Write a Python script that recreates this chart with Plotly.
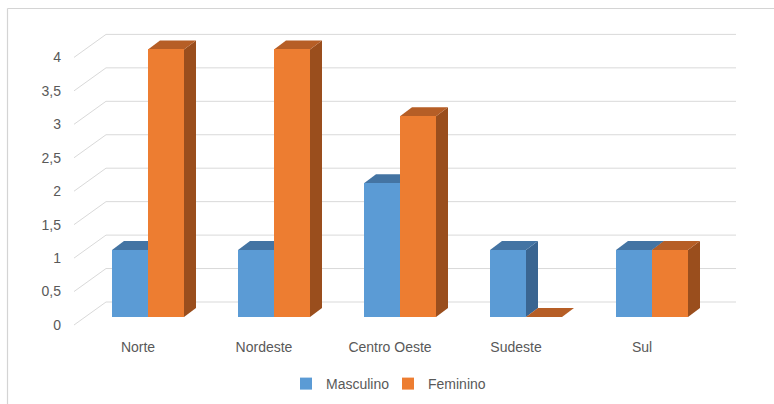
import plotly.graph_objects as go

# ---- data ----
categories = ["Norte", "Nordeste", "Centro Oeste", "Sudeste", "Sul"]
masculino = [1, 1, 2, 1, 1]
feminino = [4, 4, 3, 0, 1]
tick_vals = [0, 0.5, 1, 1.5, 2, 2.5, 3, 3.5, 4]
tick_text = ["0", "0,5", "1", "1,5", "2", "2,5", "3", "3,5", "4"]

# ---- layout geometry (pixels) ----
W, H = 774, 404
CX = 126.0   # px per category
CY = 66.9    # px per value unit
X0 = 85      # px position of x = -0.5 (bar plane)
Y0 = 317     # px position of value 0 (bar plane)
L, R, T, B = 72, 30, 20, 77
xr = [-0.5 - (X0 - L) / CX, -0.5 + (W - R - X0) / CX]
yr = [(Y0 - (H - B)) / CY, (Y0 - T) / CY]

BW = 36 / CX                      # bar width in category units
DX, DY = 12 / CX, 9 / CY          # bar depth
BDX, BDY = 21 / CX, 15 / CY       # back wall offset
FDX, FDY = -11 / CX, -8 / CY      # front floor edge offset

GRID = "#D9D9D9"
TXT = "#595959"
colors = {
    "Masculino": ("#5B9BD5", "#4474A3", "#3A6591"),
    "Feminino": ("#ED7D31", "#B65E26", "#9A4E1D"),
}

xs = list(range(len(categories)))
n = len(categories)

fig = go.Figure()
series = [("Masculino", masculino, -BW), ("Feminino", feminino, 0.0)]
for name, vals, off in series:
    fig.add_trace(go.Bar(
        x=xs, y=vals, name=name, width=BW, offset=off,
        marker=dict(color=colors[name][0], line=dict(width=0)),
    ))

shapes = []
# back wall gridlines + diagonal floor lines
for v in tick_vals:
    shapes.append(dict(type="line", xref="x", yref="y",
                       x0=-0.5 + FDX, y0=v + FDY, x1=-0.5 + BDX, y1=v + BDY,
                       line=dict(color=GRID, width=1), layer="below"))
    shapes.append(dict(type="line", xref="x", yref="y",
                       x0=-0.5 + BDX, y0=v + BDY, x1=n - 0.5 + BDX, y1=v + BDY,
                       line=dict(color=GRID, width=1), layer="below"))

# 3D side and top faces of bars
for name, vals, off in series:
    _, top_c, side_c = colors[name]
    for i, v in zip(xs, vals):
        xl = i + off
        xrr = xl + BW
        if v > 0:
            shapes.append(dict(
                type="path", xref="x", yref="y", layer="below",
                path=f"M{xrr},{0} L{xrr+DX},{DY} L{xrr+DX},{v+DY} L{xrr},{v} Z",
                fillcolor=side_c, line=dict(width=0)))
        shapes.append(dict(
            type="path", xref="x", yref="y", layer="below",
            path=f"M{xl},{v} L{xl+DX},{v+DY} L{xrr+DX},{v+DY} L{xrr},{v} Z",
            fillcolor=top_c, line=dict(width=0)))

# chart frame (left and top edges visible)
pw, ph = W - L - R, H - T - B
def px2paper_x(p):
    return (p - L) / pw
def px2paper_y(p):
    return (H - B - p) / ph
shapes.append(dict(type="line", xref="paper", yref="paper",
                   x0=px2paper_x(7.5), y0=px2paper_y(8.5), x1=px2paper_x(W + 5), y1=px2paper_y(8.5),
                   line=dict(color="#D4D4D4", width=1.2)))
shapes.append(dict(type="line", xref="paper", yref="paper",
                   x0=px2paper_x(7.5), y0=px2paper_y(8.5), x1=px2paper_x(7.5), y1=px2paper_y(H + 5),
                   line=dict(color="#D4D4D4", width=1.2)))

fig.update_layout(
    width=W, height=H,
    margin=dict(l=L, r=R, t=T, b=B, pad=0, autoexpand=False),
    paper_bgcolor="white", plot_bgcolor="white",
    font=dict(family="Liberation Sans, Arial, sans-serif", size=14, color=TXT),
    shapes=shapes,
    showlegend=True,
    legend=dict(orientation="h", x=px2paper_x(388), xanchor="center",
                y=px2paper_y(384), yanchor="middle",
                entrywidth=57, entrywidthmode="pixels",
                font=dict(size=14, color=TXT), bgcolor="rgba(0,0,0,0)"),
    xaxis=dict(range=xr, tickvals=xs, ticktext=categories, showgrid=False,
               zeroline=False, showline=False, ticks="",
               ticklabelshift=-10, ticklabelstandoff=10,
               tickfont=dict(size=14, color=TXT)),
    yaxis=dict(range=yr, tickvals=tick_vals, ticktext=tick_text, showgrid=False,
               zeroline=False, showline=False, ticks="",
               ticklabelshift=8, ticklabelstandoff=10,
               tickfont=dict(size=14, color=TXT)),
    bargap=0,
)

fig.write_html("out.html")
